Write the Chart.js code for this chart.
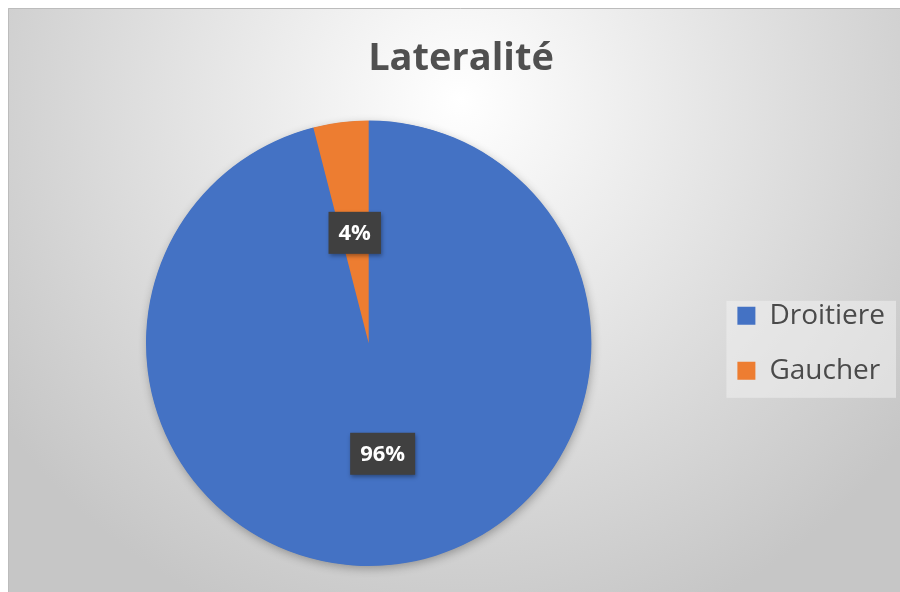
<!DOCTYPE html>
<html lang="fr">
<head>
<meta charset="UTF-8">
<title>Lateralité</title>
<script src="https://cdn.jsdelivr.net/npm/chart.js"></script>
<style>
  html, body { margin: 0; padding: 0; background: #fff; overflow: hidden; }
  #wrap { position: absolute; left: 8px; top: 8px; width: 904px; height: 584px; }
</style>
</head>
<body>
<div id="wrap"><canvas id="lateralite"></canvas></div>
<script>
const labels = ["Droitiere", "Gaucher"];
const values = [96, 4];
const colors = ["#4472C4", "#ED7D31"];
const chartTitle = "Lateralité";

// gradient background, frame and the light box behind the legend
const backgroundPlugin = {
    id: "background",
    beforeDraw(chart) {
        const ctx = chart.ctx;
        const w = chart.width, h = chart.height;
        ctx.save();
        const g = ctx.createRadialGradient(452, 92, 0, 452, 92, 560);
        g.addColorStop(0, "#ffffff");
        g.addColorStop(1, "#c6c6c6");
        ctx.fillStyle = g;
        ctx.fillRect(0, 0, w, h);
        ctx.strokeStyle = "#bcbcbc";
        ctx.lineWidth = 1;
        ctx.beginPath();
        ctx.moveTo(0.5, h);
        ctx.lineTo(0.5, 0.5);
        ctx.lineTo(w, 0.5);
        ctx.stroke();

        const boxes = chart.legend.legendHitBoxes;
        if (boxes && boxes.length) {
            const first = boxes[0], last = boxes[boxes.length - 1];
            const left = first.left - 11;
            const top = first.top - 1;
            ctx.fillStyle = "rgba(240,240,240,0.55)";
            ctx.fillRect(left, top, chart.legend.right + 1 - left, last.top + last.height + 13 - top);
        }
        ctx.restore();
    }
};

// soft drop shadow under the pie
const shadowPlugin = {
    id: "pieShadow",
    beforeDatasetsDraw(chart) {
        const arc = chart.getDatasetMeta(0).data[0];
        if (!arc) return;
        const ctx = chart.ctx;
        ctx.save();
        ctx.shadowColor = "rgba(0,0,0,0.3)";
        ctx.shadowBlur = 10;
        ctx.shadowOffsetX = 1;
        ctx.shadowOffsetY = 3;
        ctx.fillStyle = colors[0];
        ctx.beginPath();
        ctx.arc(arc.x, arc.y, arc.outerRadius - 0.5, 0, Math.PI * 2);
        ctx.fill();
        ctx.restore();
    }
};

// percentage labels in dark boxes
const labelPlugin = {
    id: "pctLabels",
    afterDatasetsDraw(chart) {
        const ctx = chart.ctx;
        const meta = chart.getDatasetMeta(0);
        const total = values.reduce((a, b) => a + b, 0);
        ctx.save();
        ctx.font = "bold 22px 'Open Sans'";
        ctx.textAlign = "center";
        ctx.textBaseline = "middle";
        meta.data.forEach((arc, i) => {
            const pos = arc.tooltipPosition();
            const txt = Math.round(values[i] / total * 100) + "%";
            const bw = ctx.measureText(txt).width + 20;
            const bh = 42;
            ctx.shadowColor = "rgba(0,0,0,0.35)";
            ctx.shadowBlur = 4;
            ctx.shadowOffsetX = 1;
            ctx.shadowOffsetY = 2;
            ctx.fillStyle = "#404040";
            ctx.fillRect(pos.x - bw / 2, pos.y - bh / 2, bw, bh);
            ctx.shadowColor = "transparent";
            ctx.fillStyle = "#ffffff";
            ctx.fillText(txt, pos.x, pos.y + 1);
        });
        ctx.restore();
    }
};

new Chart(document.getElementById("lateralite"), {
    type: "pie",
    data: {
        labels: labels,
        datasets: [{
            data: values,
            backgroundColor: colors,
            borderWidth: 0
        }]
    },
    options: {
        responsive: true,
        maintainAspectRatio: false,
        animation: false,
        layout: { padding: { left: 19, right: 17, top: 0, bottom: 26 } },
        plugins: {
            title: {
                display: true,
                text: chartTitle,
                color: "#505050",
                font: { family: "'Open Sans'", size: 38, weight: "bold" },
                padding: { top: 28, bottom: 39 }
            },
            legend: {
                position: "right",
                fullSize: false,
                labels: {
                    boxWidth: 18,
                    boxHeight: 18,
                    padding: 27,
                    color: "#4a4a4a",
                    font: { family: "'Open Sans'", size: 28 }
                }
            },
            tooltip: { enabled: false }
        }
    },
    plugins: [backgroundPlugin, shadowPlugin, labelPlugin]
});
</script>
</body>
</html>
